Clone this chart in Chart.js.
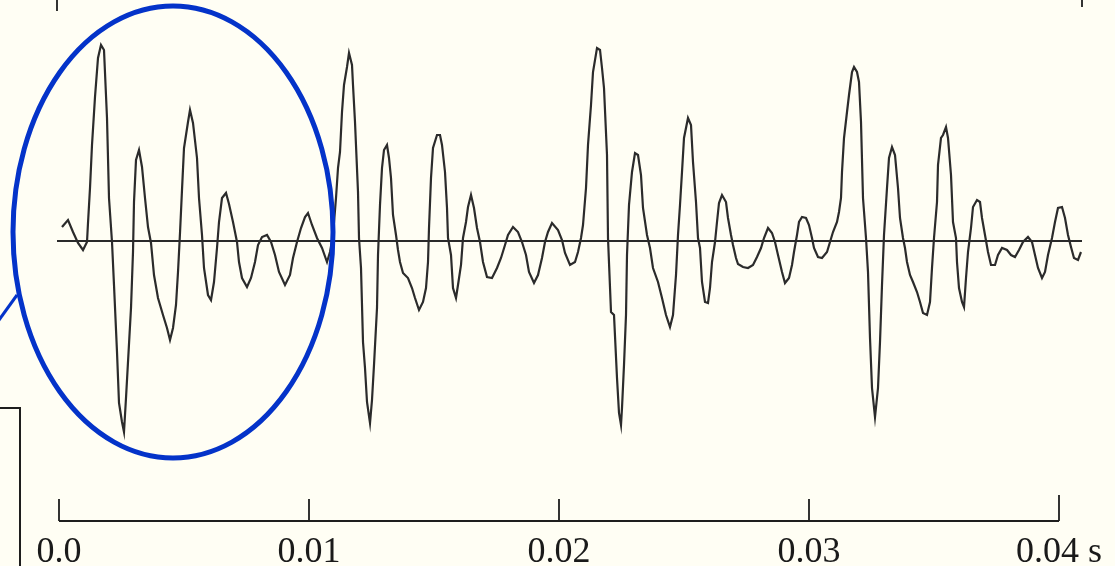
<!DOCTYPE html>
<html lang="en">
<head>
<meta charset="utf-8">
<title>Speech waveform</title>
<script src="https://cdn.jsdelivr.net/npm/chart.js"></script>
<style>
  html, body { margin: 0; padding: 0; background: #fffef4; }
  #wrap { width: 1115px; height: 566px; position: relative; }
</style>
</head>
<body>
<div id="wrap"><canvas id="wave"></canvas></div>
<script>
  // time in ms, amplitude in arbitrary units
  const timeMs = [
    0.12, 0.36, 0.56, 0.76, 0.96, 1.12, 1.16, 1.24, 1.32, 1.44,
    1.56, 1.68, 1.80, 1.92, 2.00, 2.12, 2.20, 2.32, 2.40, 2.52,
    2.60, 2.68, 2.76, 2.88, 2.96, 3.00, 3.08, 3.20, 3.32, 3.44,
    3.56, 3.68, 3.80, 3.96, 4.16, 4.32, 4.44, 4.56, 4.68, 4.76,
    4.84, 4.92, 5.00, 5.16, 5.24, 5.36, 5.52, 5.60, 5.72, 5.80,
    5.96, 6.08, 6.20, 6.32, 6.40, 6.52, 6.68, 6.80, 6.96, 7.12,
    7.20, 7.32, 7.52, 7.68, 7.84, 7.96, 8.12, 8.32, 8.48, 8.64,
    8.80, 9.04, 9.24, 9.36, 9.52, 9.68, 9.84, 9.96, 10.12, 10.32,
    10.52, 10.72, 10.84, 10.96, 11.08, 11.16, 11.24, 11.32, 11.40, 11.52,
    11.60, 11.72, 11.76, 11.84, 11.96, 12.00, 12.08, 12.16, 12.24, 12.32,
    12.44, 12.52, 12.60, 12.72, 12.76, 12.84, 12.92, 13.00, 13.12, 13.20,
    13.28, 13.36, 13.48, 13.56, 13.64, 13.76, 13.96, 14.12, 14.24, 14.40,
    14.56, 14.68, 14.76, 14.80, 14.88, 14.96, 15.12, 15.24, 15.32, 15.44,
    15.52, 15.56, 15.68, 15.76, 15.88, 15.96, 16.08, 16.16, 16.28, 16.36,
    16.48, 16.60, 16.72, 16.84, 16.96, 17.12, 17.32, 17.52, 17.68, 17.84,
    17.96, 18.16, 18.36, 18.52, 18.68, 18.80, 19.00, 19.16, 19.32, 19.44,
    19.56, 19.72, 19.96, 20.12, 20.24, 20.44, 20.64, 20.76, 20.88, 20.96,
    21.08, 21.16, 21.28, 21.36, 21.52, 21.64, 21.72, 21.80, 21.92, 21.96,
    22.08, 22.20, 22.32, 22.40, 22.48, 22.52, 22.60, 22.68, 22.72, 22.80,
    22.92, 23.04, 23.16, 23.28, 23.36, 23.52, 23.64, 23.76, 23.96, 24.12,
    24.28, 24.44, 24.56, 24.68, 24.76, 24.84, 24.92, 25.00, 25.16, 25.28,
    25.36, 25.48, 25.56, 25.64, 25.72, 25.84, 25.96, 26.04, 26.12, 26.24,
    26.32, 26.40, 26.52, 26.68, 26.76, 26.88, 26.96, 27.08, 27.16, 27.36,
    27.56, 27.76, 27.92, 28.08, 28.20, 28.36, 28.52, 28.64, 28.76, 28.92,
    29.04, 29.20, 29.32, 29.40, 29.52, 29.60, 29.72, 29.88, 30.00, 30.12,
    30.20, 30.36, 30.52, 30.72, 30.84, 30.96, 31.12, 31.20, 31.28, 31.32,
    31.40, 31.52, 31.60, 31.72, 31.80, 31.92, 32.00, 32.08, 32.16, 32.28,
    32.36, 32.44, 32.52, 32.64, 32.76, 32.84, 32.92, 33.00, 33.12, 33.20,
    33.32, 33.44, 33.56, 33.64, 33.76, 33.84, 33.92, 34.04, 34.16, 34.32,
    34.44, 34.56, 34.72, 34.84, 34.92, 35.00, 35.12, 35.16, 35.28, 35.36,
    35.48, 35.56, 35.68, 35.76, 35.88, 35.92, 36.00, 36.12, 36.20, 36.28,
    36.36, 36.48, 36.56, 36.72, 36.84, 36.92, 37.04, 37.16, 37.28, 37.44,
    37.56, 37.72, 37.92, 38.08, 38.24, 38.40, 38.56, 38.76, 38.92, 39.04,
    39.16, 39.32, 39.44, 39.56, 39.72, 39.84, 39.96, 40.12, 40.24, 40.36,
    40.48, 40.60, 40.76, 40.88
  ];
  const amplitude = [
    14, 21, 9, -2, -9, -1, 18, 53, 96, 144,
    183, 196, 191, 123, 43, -1, -44, -111, -162, -181,
    -191, -157, -121, -67, -11, 39, 81, 91, 74, 43,
    14, -2, -34, -57, -74, -87, -99, -87, -64, -31,
    8, 51, 93, 119, 131, 118, 83, 43, 6, -27,
    -54, -59, -41, -7, 19, 43, 48, 37, 19, -1,
    -21, -37, -46, -37, -21, -4, 4, 6, -1, -14,
    -31, -44, -34, -17, -1, 13, 24, 28, 16, 3,
    -7, -21, -11, 6, 43, 73, 89, 129, 156, 174,
    188, 176, 156, 119, 49, 3, -27, -101, -127, -161,
    -182, -159, -124, -67, -14, 36, 73, 91, 96, 83,
    63, 26, 6, -9, -21, -32, -37, -47, -57, -69,
    -61, -47, -21, 13, 63, 93, 106, 106, 96, 69,
    33, 3, -14, -47, -57, -44, -24, 3, 19, 34,
    46, 33, 13, -1, -21, -36, -37, -27, -17, -4,
    6, 14, 9, -1, -14, -31, -42, -34, -17, -1,
    9, 18, 11, 1, -12, -24, -21, -11, 3, 16,
    53, 96, 136, 169, 193, 191, 173, 153, 86, 3,
    -71, -74, -137, -172, -184, -167, -124, -74, -14, 36,
    69, 88, 86, 66, 33, 6, -7, -27, -41, -57,
    -74, -86, -74, -34, 6, 36, 69, 103, 123, 116,
    79, 39, 3, -7, -41, -61, -62, -47, -21, -1,
    19, 38, 46, 39, 23, 6, -4, -17, -23, -26,
    -27, -24, -16, -7, 3, 13, 8, -1, -14, -31,
    -42, -37, -24, -11, 6, 19, 24, 23, 16, 3,
    -7, -16, -17, -11, -1, 9, 19, 29, 43, 69,
    103, 129, 146, 169, 174, 169, 159, 119, 43, 3,
    -31, -97, -147, -176, -147, -101, -44, 6, 53, 83,
    94, 86, 53, 23, 3, -7, -21, -34, -41, -51,
    -61, -72, -74, -61, -27, 3, 39, 76, 103, 106,
    114, 103, 66, 19, 3, -21, -47, -61, -66, -37,
    -11, 13, 34, 41, 39, 23, 6, -11, -24, -24,
    -14, -7, -9, -14, -16, -9, -1, 4, -1, -14,
    -27, -37, -31, -14, 3, 19, 33, 34, 23, 6,
    -6, -17, -19, -11
  ];
  const tickValues = [0, 10, 20, 30, 40];
  const tickLabels = ['0.0', '0.01', '0.02', '0.03', '0.04 s'];
  const baselineSpan = [-0.08, 40.92];

  // annotation placement (data units)
  const ring = { t: 4.56, a: 9, dt: 6.4, da: 226 };
  const pointer = [[-1.68, -54], [-2.6, -86]];
  const boxCorner = [-1.56, -167];

  const decor = {
    id: 'decor',
    afterDraw(chart) {
      const { ctx, chartArea, scales: { x, y } } = chart;
      ctx.save();
      ctx.strokeStyle = '#1e1e1e';
      ctx.lineWidth = 1.8;
      ctx.beginPath();
      const axisY = chartArea.bottom;
      ctx.moveTo(x.getPixelForValue(tickValues[0]), axisY);
      ctx.lineTo(x.getPixelForValue(tickValues[tickValues.length - 1]), axisY);
      tickValues.forEach((v, i) => {
        const px = x.getPixelForValue(v);
        ctx.moveTo(px, axisY);
        ctx.lineTo(px, axisY - (i === tickValues.length - 1 ? 26 : 22));
      });
      // little frame marks at the top
      ctx.moveTo(x.getPixelForValue(baselineSpan[0]), 0);
      ctx.lineTo(x.getPixelForValue(baselineSpan[0]), 11);
      ctx.moveTo(x.getPixelForValue(baselineSpan[1]), 0);
      ctx.lineTo(x.getPixelForValue(baselineSpan[1]), 7);
      ctx.stroke();

      // box edge at lower left
      ctx.lineWidth = 2;
      ctx.beginPath();
      const bx = x.getPixelForValue(boxCorner[0]);
      const by = y.getPixelForValue(boxCorner[1]);
      ctx.moveTo(0, by);
      ctx.lineTo(bx, by);
      ctx.lineTo(bx, chart.height);
      ctx.stroke();

      // blue ring and pointer
      ctx.strokeStyle = '#0433c9';
      ctx.lineWidth = 5;
      const cx = x.getPixelForValue(ring.t);
      const cy = y.getPixelForValue(ring.a);
      const rx = x.getPixelForValue(ring.t + ring.dt) - cx;
      const ry = y.getPixelForValue(ring.a - ring.da) - cy;
      ctx.beginPath();
      ctx.ellipse(cx, cy, rx, ry, 0, 0, Math.PI * 2);
      ctx.stroke();
      ctx.lineWidth = 3;
      ctx.beginPath();
      ctx.moveTo(x.getPixelForValue(pointer[0][0]), y.getPixelForValue(pointer[0][1]));
      ctx.lineTo(x.getPixelForValue(pointer[1][0]), y.getPixelForValue(pointer[1][1]));
      ctx.stroke();
      ctx.restore();
    }
  };

  new Chart(document.getElementById('wave'), {
    type: 'line',
    data: {
      datasets: [
        {
          label: 'zero',
          data: baselineSpan.map(t => ({ x: t, y: 0 })),
          borderColor: '#2a2a2a',
          borderWidth: 1.8,
          pointRadius: 0
        },
        {
          label: 'signal',
          data: timeMs.map((t, i) => ({ x: t, y: amplitude[i] })),
          borderColor: '#2b2b2b',
          borderWidth: 2.2,
          pointRadius: 0,
          tension: 0
        }
      ]
    },
    options: {
      responsive: true,
      maintainAspectRatio: false,
      animation: false,
      layout: { padding: { left: 57, right: 33, top: 0, bottom: 0 } },
      plugins: { legend: { display: false }, tooltip: { enabled: false } },
      scales: {
        x: {
          type: 'linear',
          min: baselineSpan[0],
          max: baselineSpan[1],
          afterBuildTicks: s => { s.ticks = tickValues.map(v => ({ value: v })); },
          afterFit: s => { s.height = 45; },
          grid: { display: false },
          border: { display: false },
          ticks: {
            autoSkip: false,
            maxRotation: 0,
            padding: 8,
            color: '#1a1a1a',
            font: { family: '"Liberation Serif", "Times New Roman", serif', size: 36, lineHeight: 0.88 },
            callback: (v, i) => tickLabels[i]
          }
        },
        y: { display: false, min: -280, max: 241 }
      }
    },
    plugins: [decor]
  });
</script>
</body>
</html>
